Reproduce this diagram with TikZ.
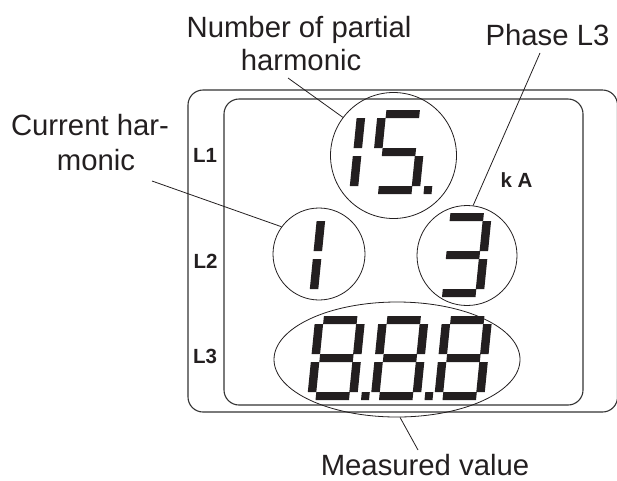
\documentclass[tikz,border=0pt]{standalone}
\usepackage{fontspec}
\setmainfont{Liberation Sans}
\usetikzlibrary{shapes.geometric}
\definecolor{ink}{HTML}{231F20}
\newcommand\segpoly[4]{\fill[ink] (#1,-#2) -- (#3,-#2) -- (#3,-#4) -- (#1,-#4) -- cycle;}
\newcommand\segA{\segpoly{8.5}{76}{42}{84}}
\newcommand\segB{\segpoly{41.5}{46}{50}{76}}
\newcommand\segC{\segpoly{41.5}{8}{50}{38}}
\newcommand\segD{\segpoly{8.5}{0}{42}{8}}
\newcommand\segE{\segpoly{0}{8}{8.5}{38}}
\newcommand\segF{\segpoly{0}{46}{8.5}{76}}
\newcommand\segG{\segpoly{8.5}{38}{42}{46}}
\newcommand\segP{\segpoly{54}{0}{62}{8}}
\newcommand\lcddigit[3]{\begin{scope}[shift={(#1,#2)},xslant=0.1]\foreach \s in {#3}{\csname seg\s\endcsname}\end{scope}}
\begin{document}
\begin{tikzpicture}[x=1pt,y=-1pt,
  big/.style={font=\fontsize{29.3}{34}\selectfont, text=ink, inner sep=0pt, anchor=base},
  tag/.style={font=\bfseries\fontsize{20.5}{24}\selectfont, text=ink, inner sep=0pt, anchor=base},
  ring/.style={draw=ink, line width=0.8pt, inner sep=0pt},
  lead/.style={draw=ink, line width=0.8pt},
  frame/.style={draw=black!80, line width=1.1pt, rounded corners=15pt}]
\useasboundingbox (0,0) rectangle (617,480);
% frames
\draw[frame] (188,90) rectangle (617.5,412);
\draw[frame] (224,99) rectangle (583,405);
% rings
\node[ring, circle, minimum size=126pt] (cTop) at (393.5,155.5) {};
\node[ring, circle, minimum size=92pt] (cLeft) at (319,254) {};
\node[ring, circle, minimum size=100pt] (cRight) at (467,255.5) {};
\node[ring, ellipse, minimum width=246pt, minimum height=115pt] (ell) at (397,359.5) {};
% digits
\lcddigit{307.5}{194}{B,C}
\lcddigit{369.5}{194}{A,F,G,C,D,P}
\lcddigit{267.5}{297}{B,C}
\lcddigit{433.5}{297}{A,B,G,C,D}
\lcddigit{307}{400}{A,B,C,D,E,F,G,P}
\lcddigit{370.5}{400}{A,B,C,D,E,F,G,P}
\lcddigit{434}{400}{A,B,C,D,E,F,G}
% tags
\node[tag] (tL1) at (205,162) {L1};
\node[tag] (tL2) at (205.5,268) {L2};
\node[tag] (tL3) at (205,363) {L3};
\node[tag] (tkA) at (516.5,187) {k A};
% labels
\node[big] (num1) at (299,37) {Number of partial};
\node[big] (num2) at (301,70) {harmonic};
\node[big] (phase) at (547.5,45) {Phase L3};
\node[big] (cur1) at (90,135) {Current har-};
\node[big] (cur2) at (96,170) {monic};
\node[big] (meas) at (425,475) {Measured value};
% leader lines
\coordinate (pNum) at (288,78);
\coordinate (pPhase) at (540,53);
\coordinate (pCur) at (152,181);
\coordinate (pMeas) at (418,450);
\draw[lead] (pNum) -- (cTop.143);
\draw[lead] (pPhase) -- (cRight.83);
\draw[lead] (pCur) -- (cLeft.144);
\draw[lead] (pMeas) -- (ell.-87);
\end{tikzpicture}
\end{document}
